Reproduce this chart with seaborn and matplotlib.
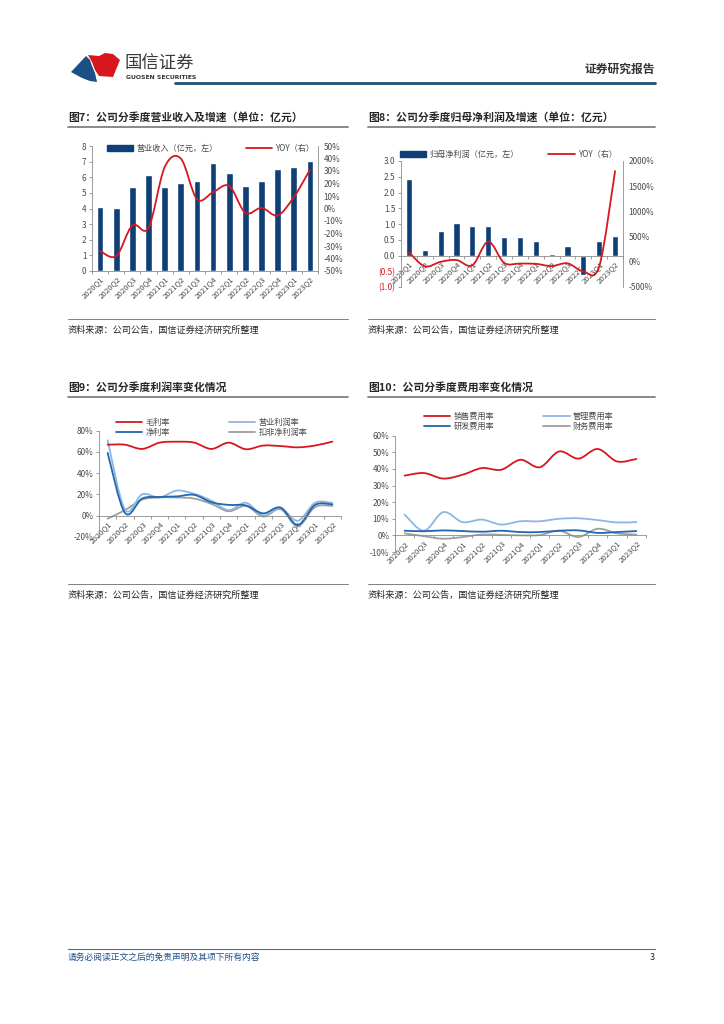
import numpy as np
import matplotlib
matplotlib.use('Agg')
import matplotlib.pyplot as plt
import seaborn as sns
from matplotlib.path import Path
from matplotlib.patches import PathPatch, Polygon, Rectangle
from matplotlib.lines import Line2D

sns.set_theme(style='ticks')
plt.rcParams['font.family'] = ['Noto Sans CJK SC', 'DejaVu Sans']
plt.rcParams['axes.unicode_minus'] = False

W, H = 724, 1024

# ---- data ----
quarters = ['2020Q1', '2020Q2', '2020Q3', '2020Q4', '2021Q1', '2021Q2', '2021Q3',
            '2021Q4', '2022Q1', '2022Q2', '2022Q3', '2022Q4', '2023Q1', '2023Q2']
quarters_fee = quarters[1:]

revenue = [4.1, 4.05, 5.35, 6.15, 5.4, 5.65, 5.75, 6.9, 6.3, 5.45, 5.75, 6.5, 6.65, 7.05]
revenue_yoy = [-34, -38, -13.5, -15.5, 33, 40, 7.5, 13, 18, -3.5, 0.5, -5.5, 9, 31]

profit = [2.42, 0.18, 0.78, 1.03, 0.93, 0.93, 0.58, 0.58, 0.46, 0.04, 0.30, -0.62, 0.46, 0.61]
profit_yoy = [190, -90, 0, 35, -70, 400, -20, -35, -40, -85, -30, -190, -90, 1800]

gross_margin = [66.8, 66.8, 62.8, 68.7, 69.6, 68.8, 62.8, 68.7, 62.5, 66.0, 65.5, 64.3, 66.0, 69.7]
op_margin = [71, 5.5, 20, 17, 23.5, 20.5, 14, 5, 12, 0, 7, -5, 12, 12]
net_margin = [59, 2.5, 16, 17.5, 18, 19.5, 12.5, 10, 9.5, 2, 7.5, -9, 10, 10.5]
deduct_margin = [-3, 5, 15, 17, 17, 16, 11, 4, 9, -1, 6, -10, 8, 9]

sales_fee = [36, 37.5, 34.2, 36.5, 40.5, 39.5, 45.5, 41, 50.5, 46.2, 52, 44.5, 46]
admin_fee = [12.5, 2.8, 14, 8, 9.5, 6.5, 8.5, 8.5, 10, 10.3, 9.2, 7.8, 8]
rd_fee = [2.8, 2.5, 3.0, 2.6, 2.2, 2.8, 2.0, 2.0, 2.8, 3.0, 1.5, 2.0, 2.6]
fin_fee = [1.2, -0.5, -2, -1, 0.5, 0.3, 0, 0.2, 2.8, -1, 4, 1.2, 0.5]

NAVY = '#0E3F77'
RED = '#D7161E'
LBLUE = '#8DB7E3'
DBLUE = '#2266B0'
GRAY = '#9E9E9E'
TXT = '#4a4a4a'

fig = plt.figure(figsize=(W / 100, H / 100), dpi=100)


def fx(x):
    return x / W


def fy(y):
    return 1 - y / H


def add_ax(l, t, r, b):
    return fig.add_axes([fx(l), fy(b), (r - l) / W, (b - t) / H])


def hline(x0, x1, y, color, lw):
    fig.add_artist(Line2D([fx(x0), fx(x1)], [fy(y), fy(y)], color=color, lw=lw,
                          transform=fig.transFigure))


def smooth_line(ax, y, color, lw=1.3):
    # excel-like smoothed line (bezier through the points)
    pts = np.column_stack([np.arange(len(y), dtype=float), np.asarray(y, dtype=float)])
    ext = np.vstack([pts[0], pts, pts[-1]])
    verts = [pts[0]]
    codes = [Path.MOVETO]
    for i in range(len(pts) - 1):
        p0, p1, p2, p3 = ext[i], ext[i + 1], ext[i + 2], ext[i + 3]
        verts += [p1 + (p2 - p0) / 6, p2 - (p3 - p1) / 6, p2]
        codes += [Path.CURVE4] * 3
    ax.add_patch(PathPatch(Path(verts, codes), fill=False, edgecolor=color, lw=lw,
                           capstyle='round', joinstyle='round'))


def style(ax, right=False):
    sns.despine(ax=ax, left=right, right=not right, top=True)
    for s in ax.spines.values():
        s.set_color('#8c8c8c')
        s.set_linewidth(0.6)
    ax.tick_params(axis='both', which='both', labelsize=5.9, colors='#8c8c8c',
                   labelcolor=TXT, length=2.5, width=0.6, pad=1.5)


def cat_xaxis(ax, labels, n):
    ax.set_xticks(range(n))
    ax.set_xticklabels(labels, rotation=45, ha='right', rotation_mode='anchor', fontsize=5.6)
    ax.set_xticks(np.arange(n + 1) - 0.5, minor=True)
    ax.tick_params(axis='x', which='major', length=0, pad=3)
    ax.tick_params(axis='x', which='minor', length=2.5)
    ax.set_xlabel('')
    ax.set_ylabel('')


def legend(ax, handles, labels, x, y, ncol, colspace):
    ax.legend(handles, labels, loc='center left', bbox_to_anchor=(fx(x), fy(y)),
              bbox_transform=fig.transFigure, ncol=ncol, frameon=False, fontsize=5.9,
              handlelength=3.2, handletextpad=0.4, columnspacing=colspace,
              labelspacing=0.15, borderaxespad=0, borderpad=0, labelcolor=TXT)


# ---- header ----
blue_logo = [(71, 72), (86, 56), (90, 60), (92, 66), (95, 73), (97, 82), (90, 81), (82, 78)]
red_logo = [(88, 55), (99, 56), (105, 53), (113, 54), (120, 60), (113, 77), (99, 76),
            (95, 70), (92, 62)]
fig.add_artist(Polygon([(fx(a), fy(b)) for a, b in blue_logo], closed=True,
                       facecolor='#1C4F86', edgecolor='none', transform=fig.transFigure))
fig.add_artist(Polygon([(fx(a), fy(b)) for a, b in red_logo], closed=True,
                       facecolor='#D7161E', edgecolor='none', transform=fig.transFigure))
fig.text(fx(125), fy(63.5), '国信证券', fontsize=12.5, color='#3a3a3a', va='center',
         ha='left')
fig.text(fx(126), fy(77.5), 'GUOSEN SECURITIES', fontsize=4.4, color='#333333',
         va='center', ha='left', fontweight='bold', family='DejaVu Sans')
fig.text(fx(655), fy(69), '证券研究报告', fontsize=8.5, color='#333333', va='center',
         ha='right', fontweight='bold')
hline(175, 655, 82.5, '#1F4E79', 2.0)

# ---- titles and sources ----
titles = [(68, 117, '图7：公司分季度营业收入及增速（单位：亿元）'),
          (368, 117, '图8：公司分季度归母净利润及增速（单位：亿元）'),
          (68, 387, '图9：公司分季度利润率变化情况'),
          (368, 387, '图10：公司分季度费用率变化情况')]
for x, y, t in titles:
    fig.text(fx(x), fy(y), t, fontsize=7.8, color='#262626', va='center', ha='left',
             fontweight='bold')
for x0, x1 in [(68, 348), (368, 655)]:
    hline(x0, x1, 127, '#808080', 1.3)
    hline(x0, x1, 397, '#808080', 1.3)
    hline(x0, x1, 318.5, '#808080', 0.7)
    hline(x0, x1, 583.5, '#808080', 0.7)
    fig.text(fx(x0), fy(330), '资料来源：公司公告，国信证券经济研究所整理', fontsize=6.6,
             color='#262626', va='center', ha='left')
    fig.text(fx(x0), fy(595), '资料来源：公司公告，国信证券经济研究所整理', fontsize=6.6,
             color='#262626', va='center', ha='left')

# ---- chart 7 ----
ax7 = add_ax(92, 146, 318, 271)
sns.barplot(x=quarters, y=revenue, color=NAVY, saturation=1, width=0.42, ax=ax7)
ax7.set_ylim(0, 8)
ax7.set_yticks(range(0, 9))
ax7.set_xlim(-0.45, 13.5)
style(ax7)
cat_xaxis(ax7, quarters, 14)
ax7b = ax7.twinx()
smooth_line(ax7b, revenue_yoy, RED, 1.3)
ax7b.set_ylim(-50, 50)
ax7b.set_yticks(range(-50, 51, 10))
ax7b.set_yticklabels([f'{v}%' for v in range(-50, 51, 10)])
style(ax7b, right=True)
ax7b.spines['bottom'].set_visible(False)
legend(ax7b, [Rectangle((0, 0), 1, 1, color=NAVY), Line2D([], [], color=RED, lw=1.3)],
       ['营业收入（亿元，左）', 'YOY（右）'], 107, 148, 2, 3.4)

# ---- chart 8 ----
ax8 = add_ax(401, 161, 623, 287)
sns.barplot(x=quarters, y=profit, color=NAVY, saturation=1, width=0.38, ax=ax8)
ax8.set_ylim(-1, 3)
ticks8 = np.arange(-1, 3.01, 0.5)
ax8.set_yticks(ticks8)
ax8.set_yticklabels([f'{v:.1f}' if v >= 0 else f'({abs(v):.1f})' for v in ticks8])
ax8.set_xlim(-0.48, 13.46)
style(ax8)
for lab, v in zip(ax8.get_yticklabels(), ticks8):
    if v < 0:
        lab.set_color(RED)
ax8.spines['bottom'].set_position(('data', 0))
cat_xaxis(ax8, quarters, 14)
ax8b = ax8.twinx()
smooth_line(ax8b, profit_yoy, RED, 1.3)
ax8b.set_ylim(-500, 2000)
ax8b.set_yticks(range(-500, 2001, 500))
ax8b.set_yticklabels([f'{v}%' for v in range(-500, 2001, 500)])
style(ax8b, right=True)
ax8b.spines['bottom'].set_visible(False)
legend(ax8b, [Rectangle((0, 0), 1, 1, color=NAVY), Line2D([], [], color=RED, lw=1.3)],
       ['归母净利润（亿元，左）', 'YOY（右）'], 400, 154, 2, 3.6)

# ---- chart 9 ----
ax9 = add_ax(99, 430.7, 341, 536.7)
for vals, col in [(deduct_margin, GRAY), (op_margin, LBLUE), (net_margin, DBLUE),
                  (gross_margin, RED)]:
    smooth_line(ax9, vals, col, 1.3)
ax9.set_ylim(-20, 80)
ax9.set_yticks(range(-20, 81, 20))
ax9.set_yticklabels([f'{v}%' for v in range(-20, 81, 20)])
ax9.set_xlim(-0.3, 13.45)
style(ax9)
ax9.spines['bottom'].set_position(('data', 0))
cat_xaxis(ax9, quarters, 14)
legend(ax9, [Line2D([], [], color=RED, lw=1.3), Line2D([], [], color=DBLUE, lw=1.3),
             Line2D([], [], color=LBLUE, lw=1.3), Line2D([], [], color=GRAY, lw=1.3)],
       ['毛利率', '净利率', '营业利润率', '扣非净利润率'], 116, 427.5, 2, 7.2)

# ---- chart 10 ----
ax10 = add_ax(395, 435.7, 646, 552)
for vals, col in [(fin_fee, GRAY), (admin_fee, LBLUE), (rd_fee, DBLUE), (sales_fee, RED)]:
    smooth_line(ax10, vals, col, 1.3)
ax10.set_ylim(-10, 60)
ax10.set_yticks(range(-10, 61, 10))
ax10.set_yticklabels([f'{v}%' for v in range(-10, 61, 10)])
ax10.set_xlim(-0.45, 12.45)
style(ax10)
ax10.spines['bottom'].set_position(('data', 0))
cat_xaxis(ax10, quarters_fee, 13)
legend(ax10, [Line2D([], [], color=RED, lw=1.3), Line2D([], [], color=DBLUE, lw=1.3),
              Line2D([], [], color=LBLUE, lw=1.3), Line2D([], [], color=GRAY, lw=1.3)],
       ['销售费用率', '研发费用率', '管理费用率', '财务费用率'], 424, 421.7, 2, 6.0)

# ---- footer ----
hline(68, 655, 948.5, '#3F6FA8', 0.8)
fig.text(fx(68), fy(957), '请务必阅读正文之后的免责声明及其项下所有内容', fontsize=6.3,
         color='#1F4E8C', style='italic', va='center', ha='left')
fig.text(fx(655), fy(957), '3', fontsize=6.5, color='#262626', va='center', ha='right')

fig.savefig('out.png', dpi=100)
